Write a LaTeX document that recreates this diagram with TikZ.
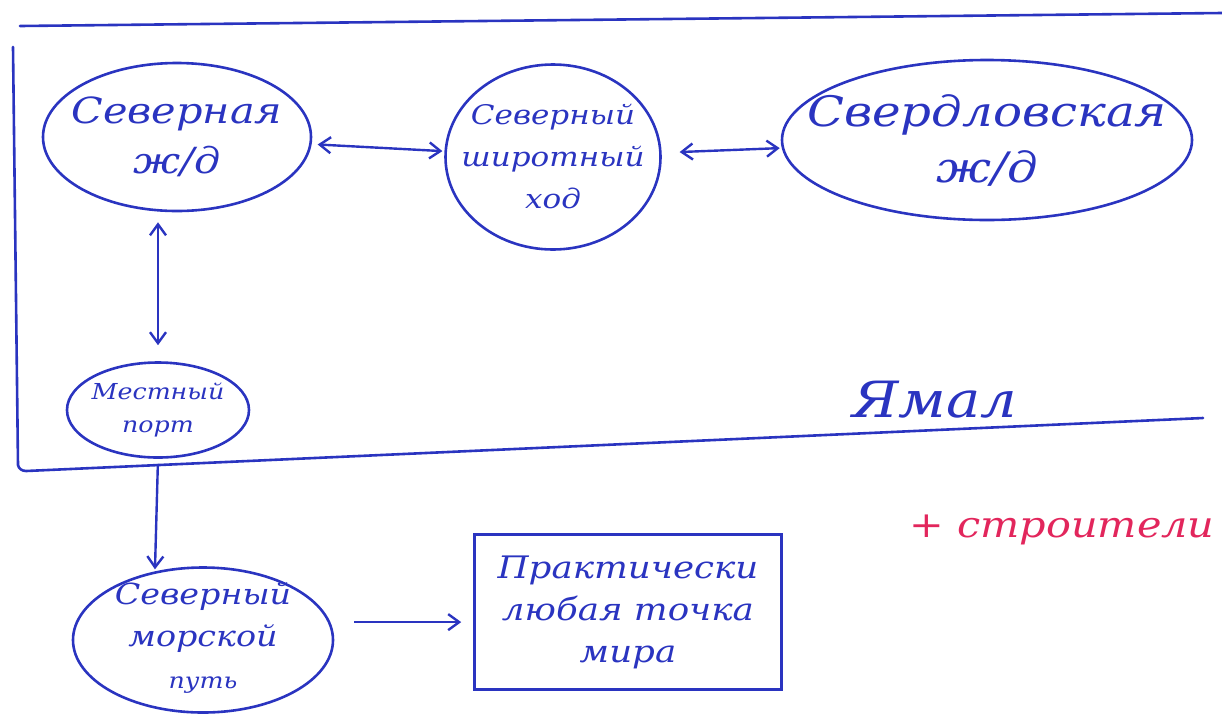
\documentclass[tikz,border=0pt]{standalone}
\usepackage{fontspec}
\newfontfamily\hand{DejaVu Serif}[FakeStretch=1.15]
\usetikzlibrary{arrows.meta,shapes.geometric,calc}
\definecolor{ink}{RGB}{42,52,192}
\definecolor{redink}{RGB}{226,38,92}
\tikzset{
  blob/.style={draw=ink, line width=2.6pt, ellipse, inner sep=0pt},
  boxed/.style={draw=ink, line width=2.6pt, rectangle, inner sep=0pt},
  lbl/.style={text=ink, align=center, inner sep=0pt},
  link/.style={draw=ink, line width=2.4pt, {Straight Barb[length=11pt,width=16pt]}-{Straight Barb[length=11pt,width=16pt]}},
  flow/.style={draw=ink, line width=2.4pt, -{Straight Barb[length=11pt,width=16pt]}},
  frame/.style={draw=ink, line width=2.6pt, line join=round, line cap=round}
}
\begin{document}
\begin{tikzpicture}[x=1pt,y=-1pt]
\useasboundingbox (0,0) rectangle (1222,713);
% outer frame (open on the right)
\coordinate (ftl) at (20,26);
\coordinate (ftr) at (1222,13);
\coordinate (fl) at (13,47);
\coordinate (fbl) at (18,465);
\coordinate (fbr) at (1203,418);
\draw[frame] (ftl) -- (ftr);
\draw[frame] (fl) -- (fbl) to[out=-80,in=178] (26,471) -- (fbr);
% nodes
\node[blob, minimum width=268pt, minimum height=148pt] (n1) at (177,137) {};
\node[blob, minimum width=215pt, minimum height=185pt] (n2) at (553,157) {};
\node[blob, minimum width=410pt, minimum height=160pt] (n3) at (987,140) {};
\node[blob, minimum width=182pt, minimum height=95pt] (n4) at (158,410) {};
\node[blob, minimum width=260pt, minimum height=145pt] (n5) at (203,640) {};
\node[boxed, minimum width=307pt, minimum height=155pt] (n6) at (628,612) {};
% labels
\node[lbl, font=\hand\itshape\fontsize{36}{50}\selectfont] (t1) at (n1) {Северная\\ж/д};
\node[lbl, font=\hand\itshape\fontsize{27}{42}\selectfont] (t2) at (n2) {Северный\\широтный\\ход};
\node[lbl, font=\hand\itshape\fontsize{42}{56}\selectfont] (t3) at (n3) {Свердловская\\ж/д};
\node[lbl, font=\hand\itshape\fontsize{22}{33}\selectfont] (t4) at (n4) {Местный\\порт};
\node[lbl, font=\hand\itshape\fontsize{29}{42}\selectfont] (t5) at ($(n5)+(0,-2)$) {Северный\\морской\\{\fontsize{22}{30}\selectfont путь}};
\node[lbl, font=\hand\itshape\fontsize{31}{42}\selectfont] (t6) at (n6) {Практически\\любая точка\\мира};
\node[lbl, font=\hand\itshape\fontsize{50}{56}\selectfont] (yamal) at (935,400) {Ямал};
\node[lbl, text=redink, font=\hand\itshape\fontsize{36}{40}\selectfont] (plus) at (1062,530) {+ строители};
% connectors
\draw[link, shorten <=6pt, shorten >=2pt] (n1) -- (n2);
\draw[link, shorten <=18pt, shorten >=2pt] (n2) -- (n3);
\draw[link, shorten <=10pt, shorten >=16pt] (n1.south -| n4.north) -- (n4.north);
\draw[flow, shorten <=5pt, shorten >=2pt] (n4.south) -- (n5.125);
\draw[flow, shorten <=24pt, shorten >=12pt] (n5.8) -- (n6.west |- n5.8);
\end{tikzpicture}
\end{document}
